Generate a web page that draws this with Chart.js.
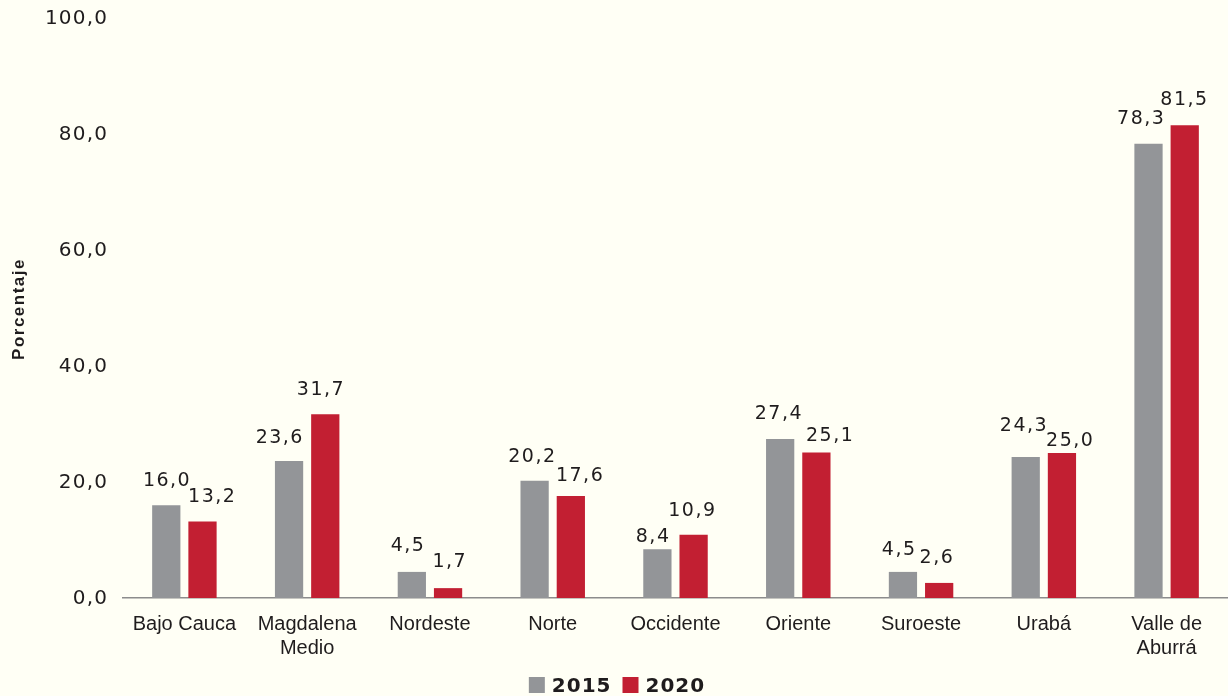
<!DOCTYPE html>
<html>
<head>
<meta charset="utf-8">
<script src="https://cdn.jsdelivr.net/npm/chart.js@4.4.1/dist/chart.umd.min.js"></script>
<style>
  html, body { margin: 0; padding: 0; background: #FFFFF5; }
  #wrap { width: 1228px; height: 696px; }
</style>
</head>
<body>
<div id="wrap"><canvas id="myChart" width="1228" height="696"></canvas></div>
<script>
const regiones = [
  ['Bajo Cauca'], ['Magdalena', 'Medio'], ['Nordeste'], ['Norte'], ['Occidente'],
  ['Oriente'], ['Suroeste'], ['Urabá'], ['Valle de', 'Aburrá']
];
const serie2015 = [16.0, 23.6, 4.5, 20.2, 8.4, 27.4, 4.5, 24.3, 78.3];
const serie2020 = [13.2, 31.7, 1.7, 17.6, 10.9, 25.1, 2.6, 25.0, 81.5];
const ticksY = [0, 20, 40, 60, 80, 100];

// desplazamiento de cada etiqueta respecto a su barra [dx, alto sobre la barra]
const ajuste2015 = [[0, 19], [-10, 18], [-4.5, 21], [-3, 19], [-5, 7], [-2, 20], [-4.5, 17], [-2.5, 26], [-8, 20]];
const ajuste2020 = [[9, 19], [-5, 19], [1, 21], [8.5, 15], [-2, 19], [13, 11], [-3, 20], [7.5, 7], [-1, 20]];

const GRIS = '#939598';
const ROJO = '#C21F32';
const TEXTO = '#1F1C1D';
const FUENTE = '"Liberation Sans", Arial, sans-serif';
const NUMEROS = '"DejaVu Sans", sans-serif';

const fmt = v => v.toFixed(1).replace('.', ',');

// etiquetas, eje Y y leyenda dibujados a mano (con espaciado entre letras)
const extras = {
  id: 'extras',
  afterDraw(chart) {
    const ctx = chart.ctx;
    const area = chart.chartArea;
    const y = chart.scales.y;
    ctx.save();
    ctx.fillStyle = TEXTO;

    // ticks eje Y
    ctx.font = '20px ' + NUMEROS;
    ctx.letterSpacing = '1.2px';
    ctx.textAlign = 'right';
    ctx.textBaseline = 'alphabetic';
    ticksY.forEach(t => {
      ctx.fillText(fmt(t), area.left - 16 + 1.2, y.getPixelForValue(t) + 6);
    });

    // titulo eje Y
    ctx.save();
    ctx.font = 'bold 17px ' + FUENTE;
    ctx.letterSpacing = '1.5px';
    ctx.translate(24, (area.top + area.bottom) / 2 + 1);
    ctx.rotate(-Math.PI / 2);
    ctx.textAlign = 'center';
    ctx.fillText('Porcentaje', 0, 0);
    ctx.restore();

    // valores sobre las barras
    ctx.font = '19px ' + NUMEROS;
    ctx.letterSpacing = '1.5px';
    ctx.textAlign = 'center';
    ctx.textBaseline = 'alphabetic';
    const ajustes = [ajuste2015, ajuste2020];
    chart.data.datasets.forEach((ds, i) => {
      chart.getDatasetMeta(i).data.forEach((bar, j) => {
        const [dx, dy] = ajustes[i][j];
        ctx.fillText(fmt(ds.data[j]), bar.x + dx + 0.75, bar.y - dy);
      });
    });

    // leyenda
    ctx.font = 'bold 20px ' + NUMEROS;
    ctx.letterSpacing = '1px';
    ctx.textAlign = 'left';
    const items = chart.data.datasets.map(ds => ({ label: ds.label, color: ds.backgroundColor, w: ctx.measureText(ds.label).width }));
    const caja = 16, sep = 7, entre = 11;
    let total = 0;
    items.forEach((it, k) => { total += caja + sep + it.w + (k ? entre : 0); });
    let x = chart.width / 2 - total / 2 + 3;
    const top = 677;
    items.forEach(it => {
      ctx.fillStyle = it.color;
      ctx.fillRect(x, top, caja, caja);
      x += caja + sep;
      ctx.fillStyle = TEXTO;
      ctx.fillText(it.label, x, top + 15);
      x += it.w + entre;
    });
    ctx.restore();
  }
};

const myChart = new Chart(document.getElementById('myChart'), {
  type: 'bar',
  data: {
    labels: regiones,
    datasets: [
      { label: '2015', data: serie2015, backgroundColor: GRIS, categoryPercentage: 0.59, barPercentage: 0.78 },
      { label: '2020', data: serie2020, backgroundColor: ROJO, categoryPercentage: 0.59, barPercentage: 0.78 }
    ]
  },
  options: {
    responsive: false,
    animation: false,
    layout: { padding: { top: 18, right: 0, left: 0, bottom: 0 } },
    scales: {
      x: {
        grid: { display: false, drawTicks: false },
        border: { display: true, color: '#8C8C8C', width: 1.5 },
        ticks: { color: TEXTO, font: { family: FUENTE, size: 20, lineHeight: 1.2 }, padding: 14, maxRotation: 0, autoSkip: false },
        afterFit(scale) { scale.height = 98; }
      },
      y: {
        min: 0,
        max: 100,
        grid: { display: false },
        border: { display: false },
        ticks: { display: false, stepSize: 20 },
        afterFit(scale) { scale.width = 123; }
      }
    },
    plugins: {
      legend: { display: false },
      tooltip: { enabled: false }
    }
  },
  plugins: [extras]
});
</script>
</body>
</html>
